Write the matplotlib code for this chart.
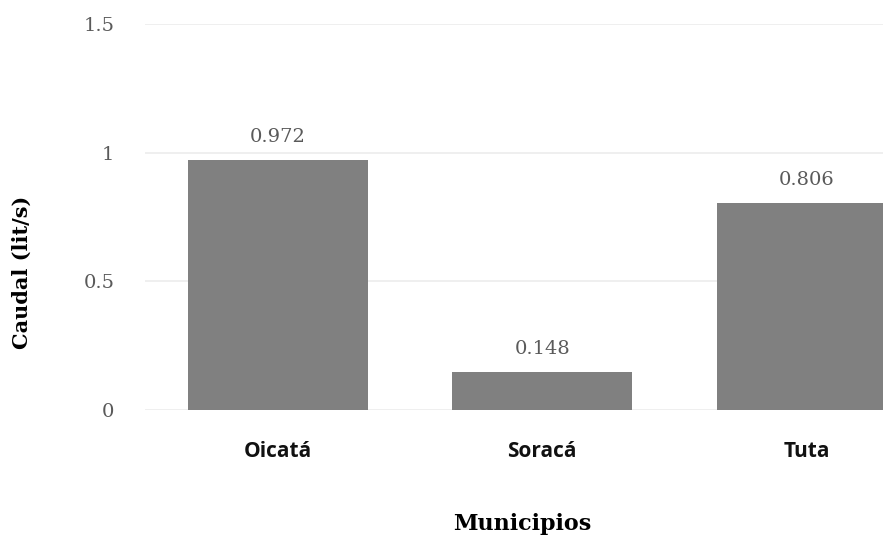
import matplotlib.pyplot as plt

# Caudal por municipio
municipios = ['Oicatá', 'Soracá', 'Tuta']
caudal = [0.972, 0.148, 0.806]
yticks = [0, 0.5, 1, 1.5]
ytick_labels = ['0', '0.5', '1', '1.5']

fig = plt.figure(figsize=(8.83, 5.42), dpi=100)
ax = fig.add_axes([0.164, 0.2435, 0.836, 0.7122])

x = range(len(municipios))
bars = ax.bar(x, caudal, width=0.68, color='#808080', zorder=2)

for b, v in zip(bars, caudal):
    ax.annotate(f'{v:.3f}', (b.get_x() + b.get_width() / 2, v),
                xytext=(0, 10), textcoords='offset points',
                ha='center', va='bottom', fontsize=14,
                family='DejaVu Serif', color='#5a5a5a')

ax.set_xlim(-0.504, 2.29)
ax.set_ylim(0, 1.5)
ax.set_yticks(yticks)
ax.set_yticklabels(ytick_labels, family='DejaVu Serif', fontsize=14, color='#5a5a5a')
ax.set_xticks(list(x))
ax.set_xticklabels(municipios, family='Open Sans', fontweight='bold', fontsize=15, color='#111111')
ax.tick_params(axis='both', length=0)
ax.tick_params(axis='x', pad=22)
ax.tick_params(axis='y', pad=22)

ax.grid(axis='y', color='#ececec', linewidth=1.2, zorder=0)
for s in ax.spines.values():
    s.set_visible(False)

ax.set_ylabel('Caudal (lit/s)', family='DejaVu Serif', fontweight='bold', fontsize=15, va='center')
ax.yaxis.set_label_coords(-0.167, 0.357)
ax.set_xlabel('Municipios', family='DejaVu Serif', fontweight='bold', fontsize=16, va='center')
ax.xaxis.set_label_coords(0.511, -0.295)

fig.savefig('out.png', dpi=100)
